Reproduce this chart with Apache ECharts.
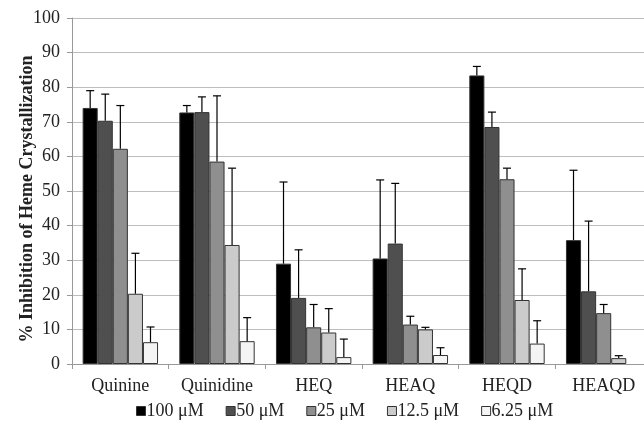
<!DOCTYPE html>
<html>
<head>
<meta charset="utf-8">
<script src="https://cdn.jsdelivr.net/npm/echarts@6/dist/echarts.min.js"></script>
<style>
  html, body { margin: 0; padding: 0; background: #fff; }
  #main { width: 644px; height: 426px; }
</style>
</head>
<body>
<div id="main"></div>
<script>
// compounds on the x axis
var categories = ['Quinine', 'Quinidine', 'HEQ', 'HEAQ', 'HEQD', 'HEAQD'];
var seriesNames = ['100 μM', '50 μM', '25 μM', '12.5 μM', '6.25 μM'];
var colors = ['#000000', '#4f4f4f', '#8f8f8f', '#cbcbcb', '#f4f4f4'];

// mean % inhibition per concentration
var conc100 = [74.0, 72.7, 29.0, 30.5, 83.4, 35.8];
var conc50 = [70.3, 72.8, 19.1, 34.8, 68.5, 21.0];
var conc25 = [62.2, 58.5, 10.6, 11.4, 53.4, 14.7];
var conc12 = [20.3, 34.4, 9.1, 10.0, 18.5, 1.7];
var conc6 = [6.3, 6.6, 2.0, 2.6, 5.9, null];

// top of the error bar (mean + sd)
var err100 = [79.0, 74.7, 52.6, 53.2, 86.0, 56.0];
var err50 = [78.0, 77.2, 33.0, 52.2, 72.8, 41.3];
var err25 = [74.7, 77.5, 17.2, 13.8, 56.6, 17.2];
var err12 = [32.0, 56.6, 16.0, 10.6, 27.5, 2.4];
var err6 = [10.7, 13.4, 7.2, 4.7, 12.5, null];

var yTicks = [0, 10, 20, 30, 40, 50, 60, 70, 80, 90, 100];

var means = [conc100, conc50, conc25, conc12, conc6];
var errs = [err100, err50, err25, err12, err6];

var chart = echarts.init(document.getElementById('main'));
var gapFrac = 0.22;

var series = [];
seriesNames.forEach(function (name, i) {
  series.push({
    name: name,
    type: 'bar',
    data: means[i],
    barGap: '0%',
    barCategoryGap: (gapFrac * 100) + '%',
    itemStyle: { color: colors[i], borderColor: '#333', borderWidth: 1 },
    z: 2
  });
});

// error bars, drawn on top of the bars
var errData = [];
errs.forEach(function (arr, s) {
  arr.forEach(function (v, c) {
    if (v != null && means[s][c] != null) errData.push([c, means[s][c], v, s]);
  });
});
series.push({
  type: 'custom',
  name: 'err',
  data: errData,
  encode: { x: 0, y: [1, 2] },
  z: 5,
  renderItem: function (params, api) {
    var c = api.value(0), lo = api.value(1), hi = api.value(2), s = api.value(3);
    var catW = api.size([1, 0])[0];
    var bw = catW * (1 - gapFrac) / 5;
    var p0 = api.coord([c, lo]);
    var p1 = api.coord([c, hi]);
    var x = p0[0] + (s - 2) * bw;
    var style = { stroke: '#000', lineWidth: 1.2 };
    return {
      type: 'group',
      children: [
        { type: 'line', shape: { x1: x, y1: p0[1], x2: x, y2: p1[1] }, style: style },
        { type: 'line', shape: { x1: x - 4, y1: p1[1], x2: x + 4, y2: p1[1] }, style: style }
      ]
    };
  }
});

chart.setOption({
  backgroundColor: '#ffffff',
  animation: false,
  textStyle: { fontFamily: 'Liberation Serif' },
  grid: { left: 72, right: -8, top: 18, bottom: 62, outerBoundsMode: 'none', containLabel: false },
  legend: {
    data: seriesNames,
    bottom: 1,
    left: 131,
    icon: 'rect',
    itemWidth: 9,
    itemHeight: 9,
    itemGap: 22,
    itemStyle: { borderColor: '#333', borderWidth: 1 },
    textStyle: { fontFamily: 'Liberation Serif', fontSize: 18, color: '#222', padding: [0, 0, 0, -4] }
  },
  xAxis: {
    type: 'category',
    data: categories,
    axisLine: { lineStyle: { color: '#999' } },
    axisTick: { show: true, length: 5, lineStyle: { color: '#999' } },
    axisLabel: { fontFamily: 'Liberation Serif', fontSize: 18, color: '#222', margin: 13 }
  },
  yAxis: {
    type: 'value',
    min: 0,
    max: 100,
    interval: 10,
    name: '% Inhibition of Heme Crystallization',
    nameLocation: 'middle',
    nameGap: 36,
    nameMoveOverlap: false,
    nameTextStyle: { fontFamily: 'Liberation Serif', fontSize: 18, fontWeight: 'bold', color: '#222',
      padding: [0, 16, 0, 0] },
    axisLine: { show: true, lineStyle: { color: '#999' } },
    axisTick: { show: true, length: 5, lineStyle: { color: '#999' } },
    axisLabel: { fontFamily: 'Liberation Serif', fontSize: 18, color: '#222', margin: 12,
      formatter: function (v) { return yTicks.indexOf(v) >= 0 ? v : ''; } },
    splitLine: { lineStyle: { color: '#bdbdbd', width: 1.2 } }
  },
  series: series
});
</script>
</body>
</html>
